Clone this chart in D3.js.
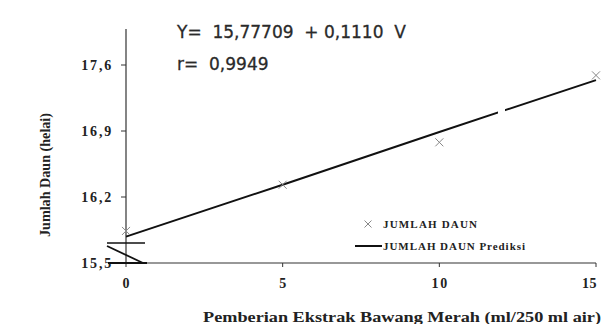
<!DOCTYPE html>
<html>
<head>
<meta charset="utf-8">
<script src="https://cdn.jsdelivr.net/npm/d3@7"></script>
<style>
  body { margin: 0; background: #fff; }
</style>
</head>
<body>
<svg id="chart" width="603" height="324"></svg>
<script>
// data
var dosis = [0, 5, 10, 15];
var jumlahDaun = [15.84, 16.33, 16.78, 17.49];
var jumlahDaunPrediksi = [15.78, 16.33, 16.89, 17.44];
var yTicks = [15.5, 16.2, 16.9, 17.6];
var xTicks = [0, 5, 10, 15];

var SERIF = '"Liberation Serif", "Times New Roman", Times, serif';
var svg = d3.select('#chart');
var fmt = function(v) { return d3.format('.1f')(v).replace('.', ','); };

var x = d3.scaleLinear().domain([0, 15]).range([126, 596]);
var y = d3.scaleLinear().domain([15.5, 17.6]).range([263, 65]);
var yTop = 29;

// axis lines
svg.append('line')
  .attr('x1', x(0)).attr('x2', x(0))
  .attr('y1', yTop).attr('y2', y(15.5))
  .attr('stroke', '#333').attr('stroke-width', 1.2);
svg.append('line')
  .attr('x1', x(0)).attr('x2', x(15))
  .attr('y1', y(15.5)).attr('y2', y(15.5))
  .attr('stroke', '#333').attr('stroke-width', 1.2);

// y ticks
var yt = svg.append('g').selectAll('g').data(yTicks).enter().append('g');
yt.append('line')
  .attr('x1', x(0) - 5).attr('x2', x(0))
  .attr('y1', function(d) { return y(d); }).attr('y2', function(d) { return y(d); })
  .attr('stroke', '#333');
yt.append('text')
  .attr('x', 113).attr('y', function(d) { return y(d) + 5; })
  .attr('text-anchor', 'end')
  .attr('font-family', SERIF).attr('font-weight', 700).attr('font-size', '14px')
  .attr('letter-spacing', '1.8').attr('fill', '#222')
  .text(fmt);

// x ticks (last label kept inside the right edge)
var xt = svg.append('g').selectAll('g').data(xTicks).enter().append('g');
xt.append('line')
  .attr('x1', function(d) { return x(d); }).attr('x2', function(d) { return x(d); })
  .attr('y1', y(15.5)).attr('y2', y(15.5) + 4)
  .attr('stroke', '#333');
xt.append('text')
  .attr('x', function(d) { return Math.min(x(d) + 1, 602); }).attr('y', 288)
  .attr('text-anchor', function(d) { return x(d) + 10 > 603 ? 'end' : 'middle'; })
  .attr('font-family', SERIF).attr('font-weight', 700).attr('font-size', '14px')
  .attr('letter-spacing', function(d) { return x(d) + 10 > 603 ? '0.5' : '1.8'; })
  .attr('fill', '#222')
  .text(function(d) { return d; });

// axis break mark
var brk = svg.append('g').attr('stroke', '#111');
brk.append('line').attr('x1', 107).attr('x2', 145).attr('y1', 243).attr('y2', 243).attr('stroke-width', 1.6);
brk.append('line').attr('x1', 107).attr('x2', 143).attr('y1', 246).attr('y2', 263).attr('stroke-width', 1.8);
brk.append('line').attr('x1', 108).attr('x2', 147).attr('y1', 263).attr('y2', 263).attr('stroke-width', 2.2);

// prediction line
var line = d3.line()
  .x(function(d, i) { return x(dosis[i]); })
  .y(function(d) { return y(d); });
svg.append('path')
  .datum(jumlahDaunPrediksi)
  .attr('d', line)
  .attr('fill', 'none')
  .attr('stroke', '#111')
  .attr('stroke-width', 2);

// gap in the scanned line
svg.append('rect').attr('x', 498).attr('y', 100).attr('width', 7).attr('height', 20).attr('fill', '#fff');

// observed points
var cross = function(g, cx, cy, s) {
  g.append('path')
    .attr('d', 'M' + (cx - s) + ',' + (cy - s) + 'L' + (cx + s) + ',' + (cy + s) +
               'M' + (cx - s) + ',' + (cy + s) + 'L' + (cx + s) + ',' + (cy - s))
    .attr('stroke', '#888').attr('stroke-width', 1).attr('fill', 'none');
};
var pts = svg.append('g');
jumlahDaun.forEach(function(v, i) { cross(pts, x(dosis[i]), y(v), 4); });

// equation
var eq = svg.append('g')
  .attr('font-family', 'Tahoma, "DejaVu Sans", Verdana, sans-serif')
  .attr('font-size', '17px').attr('fill', '#2a2a2a')
  .attr('stroke', '#2a2a2a').attr('stroke-width', 0.3);
eq.append('text').attr('x', 177).attr('y', 38).attr('xml:space', 'preserve')
  .text('Y=  15,77709  + 0,1110  V');
eq.append('text').attr('x', 177).attr('y', 70).attr('xml:space', 'preserve')
  .text('r=  0,9949');

// legend
var lg = svg.append('g')
  .attr('font-family', SERIF).attr('font-weight', 700)
  .attr('font-size', '11px').attr('fill', '#222');
cross(lg, 368, 224, 3.5);
lg.append('text').attr('x', 383).attr('y', 228).attr('textLength', 94).attr('lengthAdjust', 'spacing')
  .text('JUMLAH DAUN');
lg.append('line').attr('x1', 355).attr('x2', 382).attr('y1', 246).attr('y2', 246)
  .attr('stroke', '#111').attr('stroke-width', 2);
lg.append('text').attr('x', 383).attr('y', 250).attr('textLength', 142).attr('lengthAdjust', 'spacing')
  .text('JUMLAH DAUN Prediksi');

// axis titles
svg.append('text')
  .attr('transform', 'translate(50,175) rotate(-90)')
  .attr('text-anchor', 'middle')
  .attr('font-family', SERIF)
  .attr('font-weight', 700).attr('font-size', '14px').attr('fill', '#222')
  .attr('textLength', 124).attr('lengthAdjust', 'spacingAndGlyphs')
  .text('Jumlah Daun (helai)');
svg.append('text')
  .attr('x', 203).attr('y', 322)
  .attr('font-family', SERIF)
  .attr('font-weight', 700).attr('font-size', '14px').attr('fill', '#222')
  .attr('textLength', 398).attr('lengthAdjust', 'spacingAndGlyphs')
  .text('Pemberian Ekstrak Bawang Merah (ml/250 ml air)');
</script>
</body>
</html>
